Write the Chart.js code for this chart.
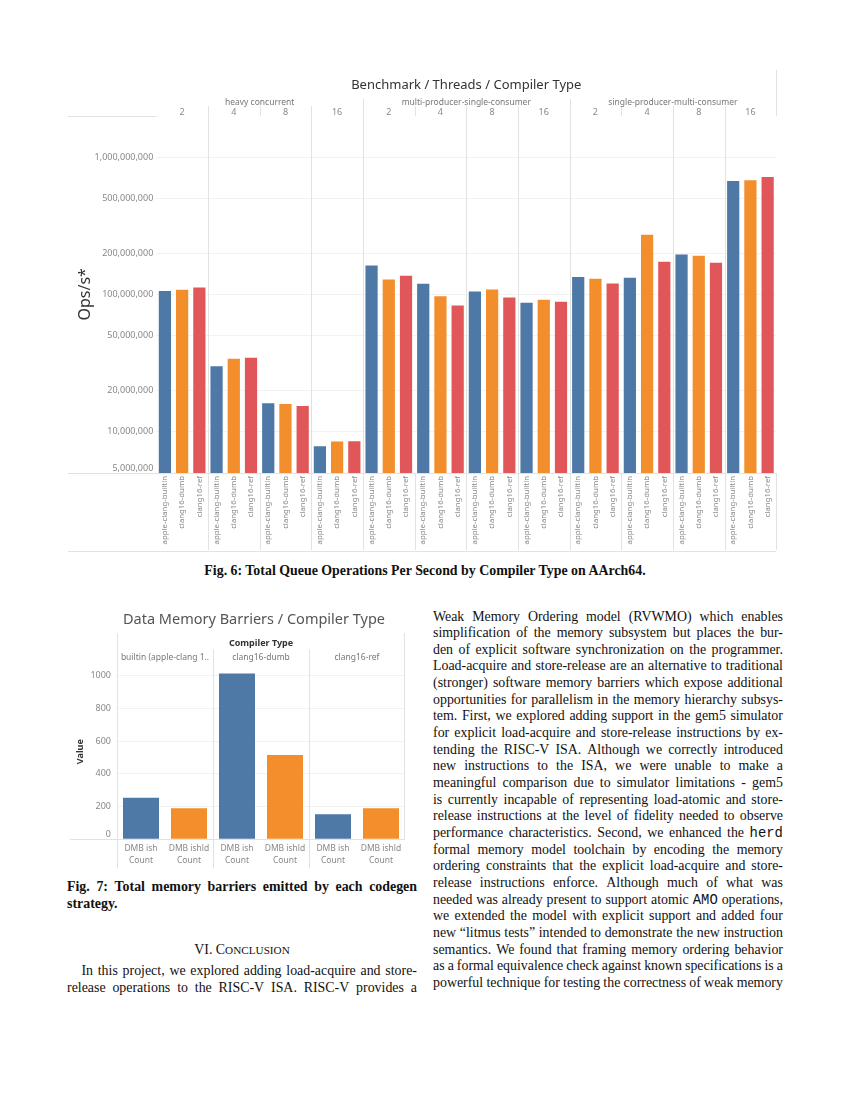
<!DOCTYPE html>
<html>
<head>
<meta charset="utf-8">
<script src="https://cdn.jsdelivr.net/npm/chart.js@4.4.1/dist/chart.umd.min.js"></script>
<style>
body { margin: 0; background: #fff; }
#page { position: relative; width: 850px; height: 1100px; overflow: hidden; font-family: "Liberation Serif", "Times New Roman", serif; color: #111; }
.box { position: absolute; }
.txt { position: absolute; font-size: 13.9px; line-height: 16.67px; }
.ln { display: flex; justify-content: space-between; white-space: nowrap; height: 16.67px; }
.ln.last { justify-content: flex-start; gap: 3.5px; }
code { font-family: "Liberation Mono", monospace; font-size: 13.9px; }
.sc { font-size: 11.2px; }
</style>
</head>
<body>
<div id="page">
  <div class="box" style="left:68px;top:70px;width:712px;height:483px"><canvas id="ops"></canvas></div>
  <div class="txt" style="left:0;top:563px;width:850px;text-align:center;font-weight:bold">Fig. 6: Total Queue Operations Per Second by Compiler Type on AArch64.</div>

  <div class="box" style="left:70px;top:600px;width:335px;height:270px"><canvas id="dmb"></canvas></div>
  <div class="txt" id="cap7" style="left:67px;top:879px;width:350px;font-weight:bold;line-height:16px"></div>
  <div class="txt" style="left:67px;top:942px;width:350px;text-align:center">VI. C<span class="sc">ONCLUSION</span></div>
  <div class="txt" id="colL" style="left:67px;top:963px;width:350px"></div>
  <div class="txt" id="colR" style="left:433px;top:608.5px;width:350px"></div>
</div>

<script>
// ---- Fig. 6 data (ops/s), groups: heavy 2,4,8,16 | mpsc 2,4,8,16 | spmc 2,4,8,16
const benchmarks = ['heavy concurrent', 'multi-producer-single-consumer', 'single-producer-multi-consumer'];
const threads = ['2', '4', '8', '16'];
const compilers = ['apple-clang-builtin', 'clang16-dumb', 'clang16-ref'];
const builtinOps = [1.057e8, 3.0e7, 1.61e7, 7.82e6, 1.62e8, 1.195e8, 1.05e8, 8.7e7, 1.335e8, 1.32e8, 1.95e8, 6.70e8];
const dumbOps = [1.08e8, 3.4e7, 1.59e7, 8.47e6, 1.284e8, 9.7e7, 1.087e8, 9.15e7, 1.30e8, 2.72e8, 1.91e8, 6.78e8];
const refOps = [1.12e8, 3.45e7, 1.54e7, 8.51e6, 1.366e8, 8.3e7, 9.5e7, 8.85e7, 1.20e8, 1.73e8, 1.70e8, 7.16e8];
const opsTicks = [5e6, 1e7, 2e7, 5e7, 1e8, 2e8, 5e8, 1e9];

// ---- Fig. 7 data (barrier counts)
const dmbCompilers = ['builtin (apple-clang 1..', 'clang16-dumb', 'clang16-ref'];
const dmbKinds = [['DMB ish', 'Count'], ['DMB ishld', 'Count']];
const ishCount = [253, 1012, 153];
const ishldCount = [190, 514, 190];

const colours = ['#4e79a7', '#f28e2b', '#e15759'];
const tickGrey = '#888';

Chart.defaults.font.family = '"Noto Sans", sans-serif';

const opsLabels = [], opsValues = [], opsColours = [];
builtinOps.forEach((v, g) => {
  [v, dumbOps[g], refOps[g]].forEach((val, c) => {
    opsLabels.push(compilers[c]);
    opsValues.push(val);
    opsColours.push(colours[c]);
  });
});

const dmbLabels = [], dmbValues = [], dmbColours = [];
dmbCompilers.forEach((c, i) => {
  [ishCount[i], ishldCount[i]].forEach((val, k) => {
    dmbLabels.push(dmbKinds[k]);
    dmbValues.push(val);
    dmbColours.push(colours[k]);
  });
});

function seg(ctx, x0, y0, x1, y1) {
  ctx.beginPath(); ctx.moveTo(x0, y0); ctx.lineTo(x1, y1); ctx.stroke();
}

// bottom y label sits just above the baseline, like the original
function bottomLabel(chart, value, text, size) {
  const { ctx, chartArea: a, scales: { y } } = chart;
  ctx.save();
  ctx.fillStyle = tickGrey;
  ctx.font = size + 'px "Noto Sans"';
  ctx.textAlign = 'right';
  ctx.textBaseline = 'bottom';
  ctx.fillText(text, a.left - y.options.ticks.padding, y.getPixelForValue(value) - 0.5);
  ctx.restore();
}
const hideFirst = c => c.index === 0 ? 'rgba(0,0,0,0)' : tickGrey;

// headers, separators and frame for the ops chart
const opsFrame = {
  id: 'opsFrame',
  beforeDatasetsDraw(chart) {
    const { ctx, chartArea: a, scales: { x } } = chart;
    const edge = i => i <= 0 ? a.left : i >= opsValues.length ? a.right
      : (x.getPixelForValue(i - 1) + x.getPixelForValue(i)) / 2;
    const groups = opsValues.length / 3;
    const foot = chart.height - 1;
    ctx.save();
    ctx.strokeStyle = '#e2e2e2';
    ctx.lineWidth = 1;
    for (let k = 1; k <= groups; k++) {
      const px = Math.round(edge(k * 3)) + 0.5;
      const major = k % threads.length === 0;
      seg(ctx, px, k === groups ? 0 : (major ? 29 : 36), px, a.top);
      if (![2, 5, 9, 12].includes(k)) seg(ctx, px, a.top, px, a.bottom);
      seg(ctx, px, a.bottom, px, foot - 2);
    }
    seg(ctx, 0, Math.round(a.top) + 0.5, a.left, Math.round(a.top) + 0.5);
    seg(ctx, 0, Math.round(a.bottom) + 0.5, a.right, Math.round(a.bottom) + 0.5);
    seg(ctx, 0, foot - 0.5, a.right, foot - 0.5);

    ctx.textAlign = 'center';
    ctx.textBaseline = 'middle';
    ctx.fillStyle = '#333';
    ctx.font = '13px "Noto Sans"';
    ctx.fillText('Benchmark / Threads / Compiler Type', (a.left + a.right) / 2, 15);
    ctx.fillStyle = '#777';
    ctx.font = '8.5px "Noto Sans"';
    benchmarks.forEach((b, i) => {
      const n = threads.length * 3;
      ctx.fillText(b, (edge(i * n) + edge((i + 1) * n)) / 2, 33);
    });
    ctx.fillStyle = tickGrey;
    ctx.font = '9px "Noto Sans"';
    for (let k = 0; k < groups; k++) {
      ctx.fillText(threads[k % threads.length], (edge(k * 3) + edge(k * 3 + 3)) / 2, 42.5);
    }
    ctx.restore();
  },
  afterDraw(chart) {
    bottomLabel(chart, opsTicks[0], opsTicks[0].toLocaleString('en-US'), 9);
  }
};

new Chart(document.getElementById('ops'), {
  type: 'bar',
  data: {
    labels: opsLabels,
    datasets: [{ data: opsValues, backgroundColor: opsColours, barPercentage: 0.71, categoryPercentage: 1 }]
  },
  options: {
    responsive: true,
    maintainAspectRatio: false,
    animation: false,
    layout: { padding: { top: 45.7 } },
    plugins: { legend: { display: false }, tooltip: { enabled: false } },
    scales: {
      x: {
        grid: { display: false, drawTicks: false },
        border: { display: false },
        ticks: { autoSkip: false, minRotation: 90, maxRotation: 90, font: { size: 7.8 }, color: tickGrey, padding: 3 },
        afterFit: s => { s.height = 80; }
      },
      y: {
        type: 'logarithmic',
        min: 5e6,
        max: 2e9,
        afterBuildTicks: s => { s.ticks = opsTicks.map(v => ({ value: v })); },
        ticks: { callback: v => Number(v).toLocaleString('en-US'), font: { size: 9 }, color: hideFirst, padding: 3 },
        grid: { color: '#f2f2f2', drawTicks: false },
        border: { display: false },
        title: { display: true, text: 'Ops/s*', font: { size: 16 }, color: '#333', padding: { top: 7.4 } },
        afterFit: s => { s.width = 88.3; }
      }
    }
  },
  plugins: [opsFrame]
});

// headers and frame for the barrier chart
const dmbFrame = {
  id: 'dmbFrame',
  beforeDatasetsDraw(chart) {
    const { ctx, chartArea: a, scales: { x } } = chart;
    const edge = i => i <= 0 ? a.left : i >= dmbValues.length ? a.right
      : (x.getPixelForValue(i - 1) + x.getPixelForValue(i)) / 2;
    const foot = chart.height - 2;
    ctx.save();
    ctx.strokeStyle = '#e2e2e2';
    ctx.lineWidth = 1;
    const l = Math.round(a.left) + 0.5, r = Math.round(a.right) - 0.5;
    seg(ctx, l, 33, l, foot);
    seg(ctx, r, 33, r, a.bottom);
    for (let i = 1; i < dmbCompilers.length; i++) {
      const px = Math.round(edge(i * 2)) + 0.5;
      seg(ctx, px, 49, px, foot);
    }
    seg(ctx, 0, Math.round(a.bottom) + 0.5, a.right, Math.round(a.bottom) + 0.5);

    ctx.textAlign = 'center';
    ctx.textBaseline = 'middle';
    ctx.fillStyle = '#555';
    ctx.font = '14.5px "Noto Sans"';
    ctx.fillText('Data Memory Barriers / Compiler Type', 184, 20);
    ctx.fillStyle = '#333';
    ctx.font = 'bold 9px "Noto Sans"';
    ctx.fillText('Compiler Type', (a.left + a.right) / 2, 43.3);
    ctx.fillStyle = '#777';
    ctx.font = '8.5px "Noto Sans"';
    dmbCompilers.forEach((c, i) => {
      const x0 = edge(i * 2), x1 = edge(i * 2 + 2);
      ctx.save();
      ctx.beginPath(); ctx.rect(x0, 48, x1 - x0, 20); ctx.clip();
      ctx.fillText(c, (x0 + x1) / 2, 57.3);
      ctx.restore();
    });
    ctx.restore();
  },
  afterDraw(chart) {
    bottomLabel(chart, 0, '0', 9);
  }
};

new Chart(document.getElementById('dmb'), {
  type: 'bar',
  data: {
    labels: dmbLabels,
    datasets: [{ data: dmbValues, backgroundColor: dmbColours, barPercentage: 0.75, categoryPercentage: 1 }]
  },
  options: {
    responsive: true,
    maintainAspectRatio: false,
    animation: false,
    layout: { padding: { top: 64 } },
    plugins: { legend: { display: false }, tooltip: { enabled: false } },
    scales: {
      x: {
        grid: { display: false, drawTicks: false },
        border: { display: false },
        ticks: { autoSkip: false, maxRotation: 0, font: { size: 8.5, lineHeight: 1.45 }, color: tickGrey, padding: 3 },
        afterFit: s => { s.height = 30.7; }
      },
      y: {
        min: 0,
        max: 1070,
        ticks: { stepSize: 200, includeBounds: false, callback: v => String(v), font: { size: 9 }, color: hideFirst, padding: 6 },
        grid: { color: '#f2f2f2', drawTicks: false },
        border: { display: false },
        title: { display: true, text: 'Value', font: { size: 9, weight: 'bold' }, color: '#333', padding: { top: 4.6 } },
        afterFit: s => { s.width = 47; }
      }
    }
  },
  plugins: [dmbFrame]
});

// ---- body text, one entry per printed line
const cap7 = ['Fig. 7: Total memory barriers emitted by each codegen', '*strategy.'];
const colL = ['In this project, we explored adding load-acquire and store-',
  'release operations to the RISC-V ISA. RISC-V provides a'];
const colR = [
  'Weak Memory Ordering model (RVWMO) which enables',
  'simplification of the memory subsystem but places the bur-',
  'den of explicit software synchronization on the programmer.',
  'Load-acquire and store-release are an alternative to traditional',
  '(stronger) software memory barriers which expose additional',
  'opportunities for parallelism in the memory hierarchy subsys-',
  'tem. First, we explored adding support in the gem5 simulator',
  'for explicit load-acquire and store-release instructions by ex-',
  'tending the RISC-V ISA. Although we correctly introduced',
  'new instructions to the ISA, we were unable to make a',
  'meaningful comparison due to simulator limitations - gem5',
  'is currently incapable of representing load-atomic and store-',
  'release instructions at the level of fidelity needed to observe',
  'performance characteristics. Second, we enhanced the `herd`',
  'formal memory model toolchain by encoding the memory',
  'ordering constraints that the explicit load-acquire and store-',
  'release instructions enforce. Although much of what was',
  'needed was already present to support atomic `AMO` operations,',
  'we extended the model with explicit support and added four',
  'new \u201clitmus tests\u201d intended to demonstrate the new instruction',
  'semantics. We found that framing memory ordering behavior',
  'as a formal equivalence check against known specifications is a',
  'powerful technique for testing the correctness of weak memory'
];

function fillLines(id, lines, indent) {
  const box = document.getElementById(id);
  lines.forEach((t, i) => {
    const div = document.createElement('div');
    div.className = 'ln';
    if (t.startsWith('*')) { div.classList.add('last'); t = t.slice(1); }
    if (i === 0 && indent) div.style.paddingLeft = indent + 'px';
    t.split(' ').forEach(w => {
      const el = document.createElement(w.startsWith('`') ? 'code' : 'span');
      el.textContent = w.replace(/`/g, '');
      div.appendChild(el);
    });
    box.appendChild(div);
  });
}
fillLines('cap7', cap7, 0);
fillLines('colL', colL, 14.4);
fillLines('colR', colR, 0);
</script>
</body>
</html>
